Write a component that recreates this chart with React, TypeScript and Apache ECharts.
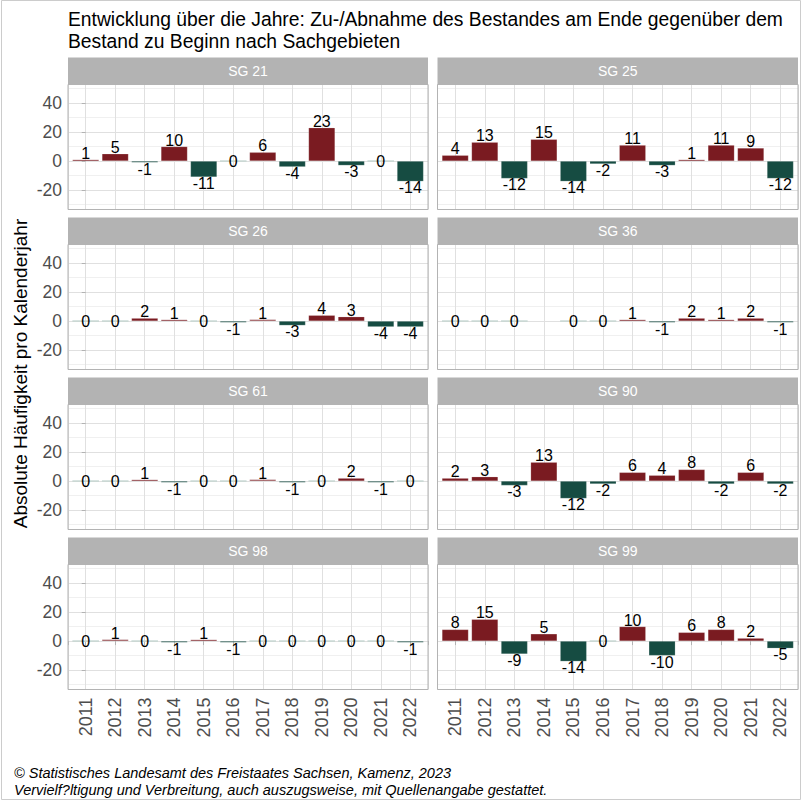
import React, { useEffect, useRef } from 'react';
import * as echarts from 'echarts';

const years = ['2011', '2012', '2013', '2014', '2015', '2016', '2017', '2018', '2019', '2020', '2021', '2022'];
const panelNames = ['SG 21', 'SG 25', 'SG 26', 'SG 36', 'SG 61', 'SG 90', 'SG 98', 'SG 99'];
const sg21 = [1, 5, -1, 10, -11, 0, 6, -4, 23, -3, 0, -14];
const sg25 = [4, 13, -12, 15, -14, -2, 11, -3, 1, 11, 9, -12];
const sg26 = [0, 0, 2, 1, 0, -1, 1, -3, 4, 3, -4, -4];
const sg36 = [0, 0, 0, null, 0, 0, 1, -1, 2, 1, 2, -1];
const sg61 = [0, 0, 1, -1, 0, 0, 1, -1, 0, 2, -1, 0];
const sg90 = [2, 3, -3, 13, -12, -2, 6, 4, 8, -2, 6, -2];
const sg98 = [0, 1, 0, -1, 1, -1, 0, 0, 0, 0, 0, -1];
const sg99 = [8, 15, -9, 5, -14, 0, 10, -10, 6, 8, 2, -5];
const panelValues: (number | null)[][] = [sg21, sg25, sg26, sg36, sg61, sg90, sg98, sg99];
const yTickLabels = [-20, 0, 20, 40];

const titleLines = [
  'Entwicklung über die Jahre: Zu-/Abnahme des Bestandes am Ende gegenüber dem',
  'Bestand zu Beginn nach Sachgebieten',
];
const yTitle = 'Absolute Häufigkeit pro Kalenderjahr';
const captionLines = [
  '© Statistisches Landesamt des Freistaates Sachsen, Kamenz, 2023',
  'Vervielf?ltigung und Verbreitung, auch auszugsweise, mit Quellenangabe gestattet.',
];

const FONT = 'Liberation Sans, Arial, Helvetica, sans-serif';
const RED = '#7a1b21';
const GREEN = '#164c42';

const colLeft = [68, 437.5];
const colWidth = [360, 360.5];
const plotTop0 = 84.5;
const rowStep = 160;
const plotH = 125;
const stripH = 27;

export default function App() {
  const ref = useRef<HTMLDivElement>(null);
  useEffect(() => {
    if (!ref.current) return;
    const chart = echarts.init(ref.current, null, { renderer: 'svg' });
    const grids: any[] = [];
    const xAxes: any[] = [];
    const yAxes: any[] = [];
    const series: any[] = [];
    const graphics: any[] = [];

    panelValues.forEach((vals, i) => {
      const col = i % 2;
      const row = Math.floor(i / 2);
      const left = colLeft[col];
      const width = colWidth[col];
      const top = plotTop0 + row * rowStep;
      const isLeft = col === 0;
      const isBottom = row === 3;
      grids.push({ left, top, width, height: plotH, containLabel: false });
      xAxes.push({
        type: 'value',
        gridIndex: i,
        min: -0.6,
        max: 11.6,
        splitNumber: 12,
        axisLine: { show: false },
        axisTick: { show: isBottom, length: 4, lineStyle: { color: '#b3b3b3' } },
        axisLabel: {
          show: isBottom,
          rotate: 90,
          margin: 8,
          color: '#4d4d4d',
          fontSize: 18,
          fontFamily: FONT,
          formatter: (v: number) => (Number.isInteger(v) && v >= 0 && v < years.length ? years[v] : ''),
        },
        splitLine: { show: true, lineStyle: { color: '#e0e0e0', width: 1 } },
      });
      yAxes.push({
        type: 'value',
        gridIndex: i,
        min: -33.4,
        max: 52.8,
        splitNumber: 4,
        axisLine: { show: false },
        axisTick: { show: isLeft, length: 4, lineStyle: { color: '#b3b3b3' } },
        axisLabel: {
          show: isLeft,
          margin: 6,
          color: '#4d4d4d',
          fontSize: 17.5,
          fontFamily: FONT,
          formatter: (v: number) => (yTickLabels.includes(v) ? String(v) : ''),
        },
        splitLine: { show: true, lineStyle: { color: '#e0e0e0', width: 1 } },
        minorTick: { show: false, splitNumber: 2 },
        minorSplitLine: { show: true, lineStyle: { color: '#ececec', width: 0.8 } },
      });
      const data: any[] = [];
      vals.forEach((v, j) => {
        if (v === null) return;
        const pos = v > 0 ? 'top' : v < 0 ? 'bottom' : 'inside';
        data.push({
          value: [j, v],
          itemStyle: {
            color: v > 0 ? RED : v < 0 ? GREEN : '#c6d6d2',
            borderColor: v === 0 ? '#c6d6d2' : 'rgba(255,255,255,0.35)',
            borderWidth: v === 0 ? 1 : 0.5,
          },
          label: {
            show: true,
            position: pos,
            distance: v === 0 ? 0 : -1.5,
            color: '#000',
            fontSize: 16,
            fontFamily: FONT,
            formatter: () => String(v),
          },
        });
      });
      series.push({
        type: 'bar',
        xAxisIndex: i,
        yAxisIndex: i,
        barWidth: 26.5,
        data,
        z: 3,
      });
      graphics.push({
        type: 'rect',
        shape: { x: left, y: top - stripH, width, height: stripH },
        style: { fill: '#b3b3b3' },
        z: 100,
      });
      graphics.push({
        type: 'text',
        style: {
          text: panelNames[i],
          x: left + width / 2,
          y: top - stripH / 2,
          textAlign: 'center',
          verticalAlign: 'middle',
          fill: '#ffffff',
          font: `14px ${FONT}`,
        },
        z: 101,
      });
      graphics.push({
        type: 'rect',
        shape: { x: left, y: top, width, height: plotH },
        style: { fill: 'none', stroke: '#b3b3b3', lineWidth: 1 },
        z: 100,
      });
    });

    titleLines.forEach((t, k) => {
      graphics.push({
        type: 'text',
        style: {
          text: t,
          x: 68,
          y: 19 + k * 22,
          textAlign: 'left',
          verticalAlign: 'middle',
          fill: '#000',
          font: `19.3px ${FONT}`,
        },
        z: 100,
      });
    });
    graphics.push({
      type: 'text',
      x: 20,
      y: 373.5,
      rotation: Math.PI / 2,
      style: {
        text: yTitle,
        x: 0,
        y: 0,
        textAlign: 'center',
        verticalAlign: 'middle',
        fill: '#000',
        font: `19px ${FONT}`,
      },
      z: 100,
    });
    captionLines.forEach((t, k) => {
      graphics.push({
        type: 'text',
        style: {
          text: t,
          x: 14,
          y: 773 + k * 17,
          textAlign: 'left',
          verticalAlign: 'middle',
          fill: '#000',
          font: `italic 14.5px ${FONT}`,
        },
        z: 100,
      });
    });
    graphics.push({
      type: 'rect',
      shape: { x: 1.5, y: 0.5, width: 799, height: 799 },
      style: { fill: 'none', stroke: '#cccccc', lineWidth: 1 },
      z: 100,
    });

    chart.setOption({
      animation: false,
      backgroundColor: '#ffffff',
      grid: grids,
      xAxis: xAxes,
      yAxis: yAxes,
      series,
      graphic: { elements: graphics },
    });
    return () => chart.dispose();
  }, []);
  return <div ref={ref} style={{ position: 'absolute', left: 0, top: 0, width: 802, height: 801 }} />;
}
